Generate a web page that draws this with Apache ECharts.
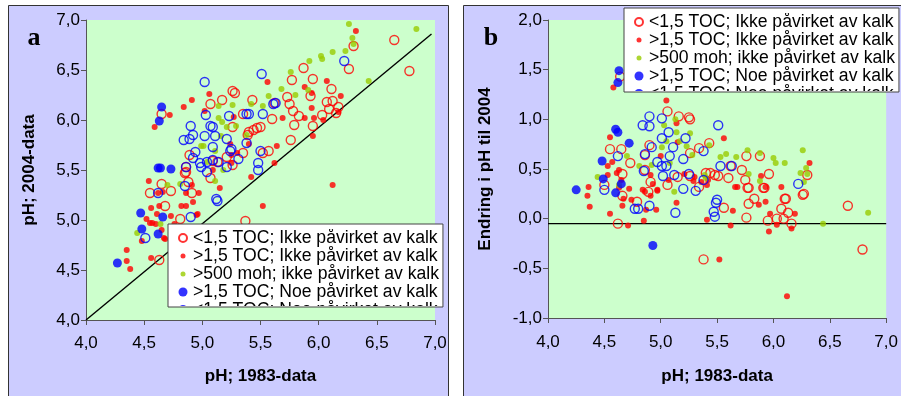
<!DOCTYPE html>
<html>
<head>
<meta charset="utf-8">
<script src="https://cdn.jsdelivr.net/npm/echarts@6/dist/echarts.min.js"></script>
<style>
html, body { margin: 0; padding: 0; background: #fff; }
#main { width: 901px; height: 396px; }
</style>
</head>
<body>
<div id="main"></div>
<script>
var seriesNames = [
	'<1,5 TOC; Ikke påvirket av kalk',
	'>1,5 TOC; Ikke påvirket av kalk',
	'>500 moh; ikke påvirket av kalk',
	'>1,5 TOC; Noe påvirket av kalk',
	'<1,5 TOC; Noe påvirket av kalk'
];
var xName = 'pH; 1983-data';
var yNameA = 'pH; 2004-data';
var yNameB = 'Endring i pH til 2004';
var xRange = [4, 7];
var yRangeA = [4, 7];
var yRangeB = [-1, 2];
var tickStep = 0.5;

// panel a: pH 1983 vs pH 2004
var aRedOpen = [[6.65,6.80],[6.30,6.74],[6.26,6.51],[6.78,6.49],[5.87,6.52],[5.77,6.40],[5.95,6.41],[6.11,6.31],[5.93,6.24],[5.73,6.23],[5.75,6.16],[5.78,6.09],[6.07,6.18],[6.12,6.19],[6.09,6.11],[6.17,6.13],[6.15,6.07],[6.03,6.05],[5.83,6.04],[5.95,5.94],[5.79,5.95],[5.76,5.80],[5.60,6.01],[5.62,6.17],[5.43,6.20],[5.26,6.29],[5.28,6.27],[5.17,6.20],[5.07,6.16],[5.35,6.06],[5.50,5.93],[5.47,5.92],[5.44,5.90],[5.40,5.88],[5.39,5.85],[5.26,5.93],[5.57,5.69],[5.52,5.67],[5.35,5.67],[5.21,5.63],[5.13,5.58],[5.09,5.59],[5.26,5.55],[5.07,5.42],[4.89,5.65],[4.86,5.53],[4.86,5.48],[4.88,5.38],[4.65,5.36],[4.73,5.29],[4.55,5.27],[4.91,5.27],[4.65,6.06],[4.68,5.14],[4.85,5.47],[4.63,4.60],[4.81,5.01],[5.37,4.99]];
var aRedDot = [[6.32,6.89],[5.56,6.38],[6.07,6.39],[5.88,6.33],[5.94,6.27],[6.19,6.24],[5.94,6.12],[5.96,6.02],[5.69,6.02],[5.88,6.02],[6.04,6.00],[6.17,6.08],[5.95,5.84],[5.64,5.74],[5.62,5.57],[5.42,5.43],[6.12,5.35],[5.06,6.26],[4.91,6.20],[4.84,6.13],[4.72,6.05],[4.59,5.93],[5.02,6.09],[5.27,6.03],[5.24,5.76],[5.40,5.76],[5.30,5.67],[5.25,5.65],[5.25,5.57],[5.09,5.50],[5.15,5.32],[4.54,5.39],[4.91,5.35],[4.97,5.27],[4.86,5.27],[4.66,5.28],[5.52,5.14],[4.82,5.14],[4.86,5.14],[4.63,5.14],[4.56,5.12],[4.73,5.04],[4.96,5.06],[4.92,5.18],[4.61,5.06],[4.52,5.01],[4.57,4.97],[4.65,4.90],[4.67,4.82],[4.48,4.79],[4.35,4.70],[4.35,4.59],[4.38,4.51],[4.56,4.62],[4.76,4.96],[4.87,4.87],[4.60,4.96],[4.55,4.97],[4.95,5.05],[4.68,4.81],[4.62,5.27]];
var aGreen = [[6.26,6.96],[6.84,6.91],[6.29,6.82],[6.30,6.76],[6.23,6.69],[6.12,6.68],[6.02,6.64],[6.03,6.61],[5.92,6.59],[5.76,6.48],[5.91,6.30],[5.80,6.25],[5.68,6.31],[5.57,6.24],[5.52,6.14],[5.42,6.16],[6.43,6.39],[5.26,6.15],[5.14,6.14],[5.14,6.02],[5.17,5.98],[5.29,5.94],[5.21,5.93],[5.16,5.84],[5.38,5.85],[4.99,5.74],[5.01,5.74],[5.11,5.69],[5.04,5.58],[5.18,5.50],[5.11,5.39],[4.81,5.36],[4.70,5.35],[4.64,4.96],[4.44,4.87]];
var aBlueDot = [[4.65,6.13],[4.63,5.99],[4.62,5.52],[4.64,5.52],[4.73,5.51],[4.47,5.07],[4.66,5.03],[4.48,4.91],[4.62,4.86],[4.27,4.57]];
var aBlueOpen = [[6.22,6.59],[5.51,6.46],[5.02,6.38],[5.63,6.17],[5.61,6.16],[5.52,6.06],[5.38,6.06],[5.40,6.06],[5.23,6.04],[5.03,6.05],[4.90,5.94],[5.07,5.94],[5.09,5.93],[4.92,5.85],[5.02,5.84],[5.11,5.84],[4.84,5.80],[4.89,5.81],[5.21,5.81],[5.09,5.73],[5.25,5.71],[5.24,5.69],[5.38,5.77],[4.94,5.68],[4.92,5.62],[5.09,5.60],[5.14,5.58],[5.31,5.61],[4.98,5.57],[5.04,5.58],[4.99,5.53],[5.04,5.48],[4.86,5.53],[5.21,5.53],[5.50,5.69],[5.48,5.57],[5.48,5.50],[4.62,5.27],[4.85,5.34],[5.12,5.21],[5.13,5.19],[4.90,5.03],[4.51,4.82]];
var aLine = [[4.0,4.0],[6.97,6.86]];

// panel b: pH 1983 vs change to 2004
var bRedOpen = [[4.64,1.43],[5.06,1.08],[5.16,1.03],[5.26,1.00],[5.25,1.02],[4.55,0.70],[4.65,0.70],[4.73,0.56],[4.66,0.45],[4.50,0.34],[4.86,0.64],[4.90,0.74],[4.86,0.49],[4.91,0.37],[5.26,0.66],[5.43,0.76],[5.34,0.71],[5.15,0.42],[5.06,0.34],[5.26,0.43],[5.40,0.46],[5.44,0.46],[5.48,0.44],[5.51,0.43],[5.60,0.41],[5.62,0.53],[5.72,0.49],[5.76,0.63],[5.88,0.63],[5.96,0.45],[5.75,0.39],[5.78,0.31],[5.92,0.31],[6.27,0.25],[6.30,0.44],[6.11,0.20],[5.83,0.20],[5.34,0.32],[4.89,0.27],[4.62,-0.05],[5.38,-0.41],[6.79,-0.31],[6.66,0.13],[6.26,0.24],[6.10,0.20],[6.07,0.10],[6.13,0.06],[6.09,0.00],[6.03,0.00],[5.95,-0.02],[6.16,-0.05],[5.76,0.01],[5.78,0.15],[5.56,0.11],[4.79,0.17],[4.66,0.23],[5.91,0.31],[5.77,0.31]];
var bRedDot = [[4.58,1.32],[5.05,1.19],[5.14,0.96],[5.56,0.81],[4.55,0.82],[4.57,0.57],[4.53,0.53],[4.53,0.44],[4.61,0.46],[4.63,0.49],[4.65,0.39],[4.63,0.31],[4.36,0.32],[4.35,0.23],[4.72,0.30],[4.84,0.29],[4.97,0.29],[5.00,0.63],[4.91,0.44],[4.93,0.35],[5.07,0.39],[5.15,0.77],[5.30,0.42],[5.29,0.38],[5.36,0.37],[5.42,0.39],[5.66,0.32],[5.89,0.43],[5.93,0.32],[6.07,0.32],[6.32,0.56],[5.21,0.45],[4.37,0.12],[4.55,0.05],[4.66,0.13],[4.67,0.20],[4.74,0.19],[4.85,-0.02],[4.71,-0.07],[4.87,0.09],[4.96,0.09],[4.91,0.23],[4.86,0.27],[4.97,0.28],[5.14,0.16],[5.41,-0.01],[5.41,0.34],[5.52,-0.41],[5.64,0.08],[5.62,-0.07],[5.68,0.32],[5.87,0.14],[5.93,0.17],[5.96,-0.13],[5.97,0.05],[6.03,-0.06],[6.19,0.05],[6.16,-0.10],[6.12,-0.78]];
var bGreen = [[5.13,1.00],[5.03,0.94],[5.26,0.86],[5.14,0.87],[5.17,0.78],[5.23,0.73],[5.01,0.72],[5.05,0.78],[5.28,0.64],[5.08,0.56],[4.92,0.54],[4.81,0.53],[4.70,0.63],[4.44,0.42],[5.53,0.62],[5.58,0.65],[5.67,0.62],[5.77,0.69],[5.88,0.66],[5.78,0.45],[5.88,0.38],[6.00,0.61],[6.02,0.56],[6.10,0.56],[6.26,0.69],[6.24,0.46],[6.29,0.51],[6.30,0.45],[5.39,0.44],[5.40,0.41],[5.12,0.27],[5.43,0.74],[6.27,0.37],[6.44,-0.05],[6.84,0.06],[4.63,0.34]];
var bBlueDot = [[4.63,1.49],[4.62,1.37],[4.60,0.90],[4.62,0.87],[4.72,0.76],[4.48,0.58],[4.49,0.40],[4.65,0.35],[4.25,0.29],[4.60,0.26],[4.93,-0.27]];
var bBlueOpen = [[4.90,1.03],[5.01,1.01],[4.84,0.94],[4.90,0.93],[5.07,0.87],[5.01,0.81],[5.22,0.81],[5.51,0.94],[5.11,0.72],[4.92,0.72],[4.86,0.65],[5.08,0.63],[5.20,0.60],[5.38,0.68],[4.97,0.57],[5.01,0.53],[5.05,0.53],[4.85,0.48],[5.02,0.43],[5.12,0.44],[5.25,0.45],[5.38,0.39],[5.53,0.53],[5.63,0.53],[5.20,0.30],[5.31,0.28],[4.62,0.63],[4.50,0.29],[6.22,0.35],[5.50,0.19],[4.90,0.13],[4.77,0.10],[4.80,0.10],[5.13,0.06],[5.47,0.07],[5.48,0.02],[5.49,0.16]];
var bLine = [[4.0,-0.05],[7.0,-0.05]];

var font = 'Liberation Sans, Arial, sans-serif';
var fmt = function (v) { return v.toFixed(1).replace('.', ','); };

// marker look per series (same order as seriesNames)
var marks = [
	{size: 9, item: {color: 'rgba(0,0,0,0)', borderColor: '#ff0000', borderWidth: 1.4}, icon: 'path://M0,0M10,10M1,5a4,4 0 1,0 8,0a4,4 0 1,0 -8,0'},
	{size: 6, item: {color: '#ff0000'}, icon: 'path://M0,0M10,10M2.5,5a2.5,2.5 0 1,0 5,0a2.5,2.5 0 1,0 -5,0'},
	{size: 6, item: {color: '#99cc00'}, icon: 'path://M0,0M10,10M2.5,5a2.5,2.5 0 1,0 5,0a2.5,2.5 0 1,0 -5,0'},
	{size: 9, item: {color: '#0000ff'}, icon: 'path://M0,0M10,10M0.5,5a4.5,4.5 0 1,0 9,0a4.5,4.5 0 1,0 -9,0'},
	{size: 9, item: {color: 'rgba(0,0,0,0)', borderColor: '#0000ff', borderWidth: 1.4}, icon: 'path://M0,0M10,10M1,5a4,4 0 1,0 8,0a4,4 0 1,0 -8,0'}
];

function xAxisFor(gi, labelGap, nameGap) {
	return {
		type: 'value', gridIndex: gi, min: xRange[0], max: xRange[1], interval: tickStep,
		name: xName, nameLocation: 'middle', nameGap: nameGap,
		nameTextStyle: {fontFamily: font, fontSize: 17, fontWeight: 'bold', color: '#000'},
		axisLine: {show: true, onZero: false, lineStyle: {color: '#555', width: 1}},
		axisTick: {show: true, length: 5, lineStyle: {color: '#555'}},
		axisLabel: {margin: labelGap, fontFamily: font, fontSize: 17, color: '#000', formatter: fmt},
		splitLine: {show: false}
	};
}
function yAxisFor(gi, range, name, nameGap) {
	return {
		type: 'value', gridIndex: gi, min: range[0], max: range[1], interval: tickStep,
		name: name, nameLocation: 'middle', nameGap: nameGap,
		nameTextStyle: {fontFamily: font, fontSize: 17, fontWeight: 'bold', color: '#000'},
		axisLine: {show: true, lineStyle: {color: '#555', width: 1}},
		axisTick: {show: true, length: 5, lineStyle: {color: '#555'}},
		axisLabel: {margin: 6, fontFamily: font, fontSize: 17, color: '#000', formatter: fmt},
		splitLine: {show: false}
	};
}
function legendFor(left, top, h) {
	return {
		type: 'scroll', orient: 'vertical', left: left, top: top, height: h,
		padding: [5, 4, 0, 9], itemWidth: 10, itemHeight: 10, itemGap: 0,
		backgroundColor: '#fff', borderColor: '#444', borderWidth: 1,
		textStyle: {fontFamily: font, fontSize: 17.6, lineHeight: 16.5, color: '#000'},
		pageIconSize: 0, pageButtonGap: 0, pageButtonItemGap: 0, pageFormatter: '',
		pageTextStyle: {fontSize: 1, color: 'rgba(0,0,0,0)'},
		selectedMode: false,
		data: seriesNames.map(function (n, i) { return {name: n, icon: marks[i].icon}; })
	};
}
function scatterSet(gi, lists) {
	return lists.map(function (d, i) {
		return {
			name: seriesNames[i], type: 'scatter', xAxisIndex: gi, yAxisIndex: gi,
			symbol: 'circle', symbolSize: marks[i].size, itemStyle: marks[i].item,
			data: d, silent: true
		};
	});
}
function lineSeries(gi, d) {
	return {
		type: 'line', xAxisIndex: gi, yAxisIndex: gi, data: d, showSymbol: false,
		lineStyle: {color: '#000', width: 1.4}, silent: true, z: 1
	};
}

var option = {
	animation: false,
	backgroundColor: '#fff',
	textStyle: {fontFamily: font},
	graphic: [
		{type: 'rect', z: -10, shape: {x: 8.5, y: 5.5, width: 440, height: 400}, style: {fill: '#ccccff', stroke: '#333', lineWidth: 1}},
		{type: 'rect', z: -10, shape: {x: 463.5, y: 5.5, width: 450, height: 400}, style: {fill: '#ccccff', stroke: '#333', lineWidth: 1}},
		{type: 'text', z: 10, x: 34, y: 38, style: {text: 'a', fontFamily: 'Liberation Serif, Times New Roman, serif', fontWeight: 'bold', fontSize: 26, fill: '#000', textAlign: 'center', textVerticalAlign: 'middle'}},
		{type: 'text', z: 10, x: 491, y: 38, style: {text: 'b', fontFamily: 'Liberation Serif, Times New Roman, serif', fontWeight: 'bold', fontSize: 26, fill: '#000', textAlign: 'center', textVerticalAlign: 'middle'}}
	],
	grid: [
		{left: 86, top: 20, width: 349, height: 300, show: true, backgroundColor: '#ccffcc', borderWidth: 0},
		{left: 548, top: 20, width: 343, height: 298, show: true, backgroundColor: '#ccffcc', borderWidth: 0}
	],
	xAxis: [xAxisFor(0, 15, 48), xAxisFor(1, 16, 50)],
	yAxis: [yAxisFor(0, yRangeA, yNameA, 48), yAxisFor(1, yRangeB, yNameB, 54)],
	legend: [legendFor(168, 224, 78), legendFor(624, 8, 79)],
	series: [lineSeries(0, aLine), lineSeries(1, bLine)]
		.concat(scatterSet(0, [aRedOpen, aRedDot, aGreen, aBlueDot, aBlueOpen]))
		.concat(scatterSet(1, [bRedOpen, bRedDot, bGreen, bBlueDot, bBlueOpen]))
};

var myChart = echarts.init(document.getElementById('main'));
myChart.setOption(option);
</script>
</body>
</html>
